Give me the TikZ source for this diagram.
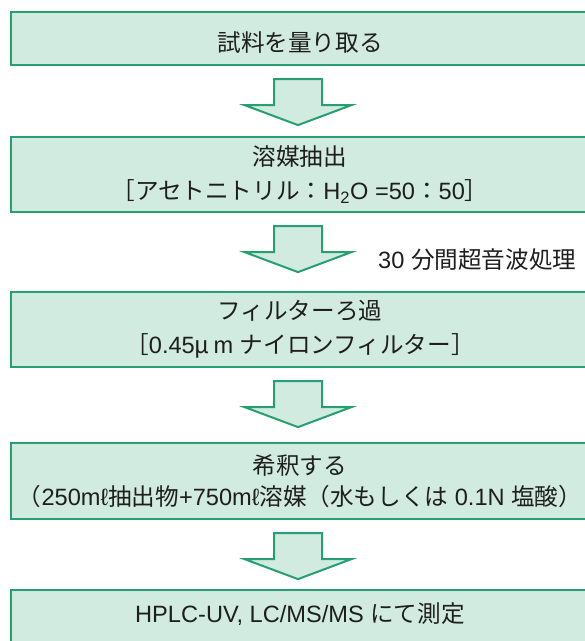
\documentclass[tikz,border=0pt]{standalone}
\usepackage{fontspec}
\setmainfont{Liberation Sans}
\newfontfamily\jpfont{Noto Sans CJK JP}
\newcommand\J[1]{{\jpfont #1}}
\usetikzlibrary{calc}
\definecolor{bordergreen}{RGB}{38,160,112}
\definecolor{fillgreen}{RGB}{210,235,225}
\definecolor{txt}{RGB}{30,30,30}
\tikzset{
  flowbox/.style={draw=bordergreen, fill=fillgreen, line width=2.2pt, minimum width=578pt,
    inner sep=0pt, align=center, text=txt, font=\fontsize{23.6}{34}\selectfont},
  blockarrow/.style={draw=bordergreen, fill=fillgreen, line width=2pt, line join=miter},
  note/.style={text=txt, font=\fontsize{23.6}{27}\selectfont, inner sep=0pt, anchor=west}
}
\newcommand\flowarrow[1]{%
  \draw[blockarrow] ($(#1.south)+(-26,-13)$) -- ++(48,0) -- ++(0,-26) -- ++(29.5,0)
    -- ++(-53.5,-20) -- ++(-53.5,20) -- ++(29.5,0) -- cycle;}
\begin{document}
\begin{tikzpicture}[x=1pt,y=1pt]
\useasboundingbox (0,0) rectangle (585,641);
\clip (0,0) rectangle (585,641);
\node[flowbox, minimum height=53pt, text height=29pt, text depth=3pt] (s1) at (300,602.5) {\J{試料を量り取る}};
\node[flowbox, minimum height=75pt] (s2) at (300,466.5) {\J{溶媒抽出}\\\J{［アセトニトリル：}H\textsubscript{2}O =50\J{：}50\J{］}};
\node[flowbox, minimum height=75pt] (s3) at (300,311.5) {\J{フィルターろ過}\\\J{［}0.45\J{μ}\hspace{4pt}m \J{ナイロンフィルター］}};
\node[flowbox, minimum height=76pt, font=\fontsize{23.6}{31}\selectfont] (s4) at (300,160) {\J{希釈する}\\\J{（}250mℓ\J{抽出物}+750mℓ\J{溶媒（水もしくは} 0.1N \J{塩酸）}};
\node[flowbox, minimum height=60pt, text height=17pt, text depth=12pt] (s5) at (300,21) {HPLC-UV, LC/MS/MS \J{にて測定}};
\flowarrow{s1}
\flowarrow{s2}
\flowarrow{s3}
\flowarrow{s4}
\node[note] (sonic) at (378,381) {30 \J{分間超音波処理}};
\end{tikzpicture}
\end{document}
